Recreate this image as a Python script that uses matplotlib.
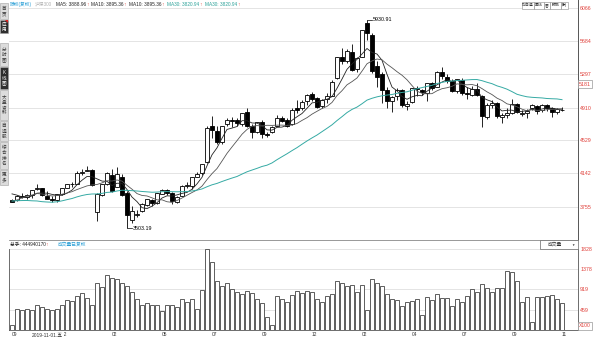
import numpy as np
import pandas as pd
import matplotlib.pyplot as plt
from matplotlib.patches import Rectangle

plt.rcParams['font.family'] = ['Liberation Sans', 'Noto Sans CJK SC', 'DejaVu Sans']

# weekly candles, CSI 300, 2019-09-30 .. 2021-11-15
months = ['09', '12', '02', '05', '07', '09', '12', '02', '04', '07', '09', '11']
pre_close = [3658, 3746, 3807, 3872, 4062, 4035, 4136, 3964, 3913, 3734,
             3649, 3596, 3629, 3571, 3688, 3830, 3825, 3892, 3808, 3808,
             3835, 3747, 3634, 3711, 3797, 3799, 3948, 3972, 3935, 3852]
opens = [3830, 3838, 3880, 3865, 3893, 3960, 3968, 3885, 3850, 3828,
         3900, 3975, 4020, 4025, 4150, 4170, 4185, 3688, 3892, 4020,
         4120, 3990, 4100, 3920, 3600, 3660, 3700, 3770, 3835, 3800,
         3905, 3950, 3915, 3810, 3880, 4000, 3995, 4105, 4145, 4270,
         4700, 4640, 4510, 4720, 4770, 4760, 4720, 4860, 4700, 4630,
         4740, 4600, 4620, 4700, 4790, 4760, 4720, 4910, 4900, 4985,
         5070, 5020, 4925, 5010, 5045, 5250, 5500, 5450, 5560, 5360,
         5500, 5895, 5750, 5390, 5300, 5110, 4990, 5040, 5110, 4930,
         4970, 5135, 5110, 5080, 5200, 5150, 5320, 5270, 5220, 5100,
         5230, 5075, 5060, 5125, 5040, 4800, 4945, 4960, 4800, 4825,
         4850, 4950, 4840, 4850, 4900, 4930, 4880, 4945, 4900, 4860,
         4885]
highs = [3840, 3890, 3910, 3905, 3955, 4018, 3975, 3935, 3878, 3905,
         3970, 4024, 4045, 4172, 4190, 4231, 4193, 3909, 4020, 4157,
         4190, 4220, 4140, 3935, 3760, 3720, 3800, 3850, 3850, 3915,
         3960, 3963, 3930, 3880, 4010, 4040, 4105, 4155, 4250, 4700,
         4816, 4700, 4700, 4790, 4800, 4790, 4850, 4900, 4720, 4745,
         4760, 4625, 4690, 4820, 4810, 4790, 4900, 5000, 4995, 5070,
         5090, 5035, 5010, 5080, 5230, 5500, 5600, 5590, 5655, 5500,
         5810, 5931, 5780, 5450, 5320, 5150, 5050, 5135, 5125, 4990,
         5140, 5160, 5125, 5200, 5210, 5340, 5380, 5300, 5240, 5245,
         5250, 5150, 5160, 5195, 5060, 4960, 5000, 4970, 4850, 4900,
         5005, 4960, 4880, 4890, 4950, 4945, 4950, 4950, 4920, 4900,
         4920]
lows = [3808, 3820, 3860, 3850, 3862, 3955, 3880, 3845, 3812, 3815,
        3890, 3972, 3985, 4020, 4120, 4168, 3994, 3588, 3880, 4010,
        3922, 3980, 3880, 3503, 3570, 3640, 3695, 3760, 3760, 3790,
        3900, 3890, 3790, 3802, 3875, 3975, 3960, 4100, 4120, 4265,
        4550, 4490, 4490, 4690, 4680, 4700, 4690, 4680, 4560, 4610,
        4560, 4570, 4615, 4695, 4740, 4680, 4710, 4850, 4880, 4940,
        4990, 4910, 4900, 4960, 5040, 5240, 5420, 5430, 5340, 5330,
        5495, 5700, 5310, 5150, 4960, 4900, 4860, 5000, 4920, 4880,
        4960, 5050, 5060, 4985, 5120, 5145, 5240, 5200, 5090, 5080,
        5060, 5010, 5040, 5040, 4680, 4780, 4900, 4790, 4730, 4790,
        4840, 4850, 4815, 4790, 4880, 4830, 4860, 4870, 4800, 4840,
        4865]
closes = [3814, 3874, 3869, 3895, 3952, 3973, 3891, 3849, 3828, 3902,
          3968, 4017, 4025, 4144, 4163, 4186, 4004, 3899, 4015, 4149,
          3940, 4138, 3895, 3653, 3710, 3675, 3786, 3839, 3797, 3912,
          3947, 3913, 3824, 3867, 3999, 4003, 4098, 4138, 4247, 4671,
          4643, 4505, 4695, 4762, 4750, 4733, 4845, 4696, 4628, 4740,
          4599, 4587, 4681, 4791, 4755, 4695, 4886, 4887, 4980, 5060,
          5010, 4920, 5003, 5042, 5211, 5496, 5458, 5570, 5351, 5483,
          5808, 5779, 5336, 5262, 5120, 4990, 5038, 5112, 4936, 4955,
          5135, 5123, 5088, 5200, 5143, 5321, 5283, 5224, 5102, 5239,
          5081, 5069, 5121, 5058, 4811, 4942, 4966, 4807, 4827, 4850,
          4948, 4855, 4850, 4866, 4938, 4874, 4940, 4908, 4854, 4889,
          4880]
volumes = [110, 480, 460, 470, 445, 560, 520, 480, 460, 470,
           560, 680, 660, 760, 840, 720, 560, 1050, 960, 1250,
           1180, 1150, 1050, 1000, 850, 700, 560, 600, 560, 560,
           420, 560, 560, 530, 700, 640, 700, 480, 900, 1820,
           1540, 1100, 1000, 1050, 920, 860, 820, 880, 840, 700,
           600, 300, 113, 760, 700, 640, 800, 880, 830, 880,
           860, 700, 640, 760, 820, 1100, 1050, 1000, 1020, 860,
           1020, 460, 1150, 1050, 1000, 820, 700, 680, 542, 640,
           662, 700, 340, 746, 678, 806, 723, 723, 542, 700,
           633, 768, 927, 866, 1040, 949, 866, 949, 949, 1333,
           1311, 1115, 640, 746, 181, 746, 735, 768, 791, 700,
           610]
price_ticks = [6066, 5684, 5297, 4910, 4529, 4142, 3755]
vol_ticks = [1828, 1378, 919, 459]

n = len(closes)
idx = np.arange(n)
allc = pd.Series(pre_close + closes)
ma5 = allc.rolling(5).mean().values[-n:]
ma10 = allc.rolling(10).mean().values[-n:]
ma30 = allc.rolling(30).mean().values[-n:]

W, H = 600, 337
fig = plt.figure(figsize=(6, 3.37), dpi=100)


def px_axes(x0, y0, x1, y1):
    return fig.add_axes([x0 / W, 1 - y1 / H, (x1 - x0) / W, (y1 - y0) / H])


red = '#e0403a'
grid_c = '#e4e4e4'

# ---- price panel
ax = px_axes(9, 0, 578, 240)
ax.set_xlim(-0.6, 113.2)
ax.set_ylim(3367, 6163)
o = np.array(opens); c = np.array(closes)
up = c >= o
ax.vlines(idx, lows, highs, color='black', lw=0.6, zorder=2)
ax.bar(idx, np.abs(c - o), bottom=np.minimum(o, c), width=0.62,
       color=np.where(up, 'white', 'black'), edgecolor='black', lw=0.6, zorder=3)
ax.plot(idx, ma5, color='#222222', lw=0.6, zorder=4)
ax.plot(idx, ma10, color='#555555', lw=0.6, zorder=4)
ax.plot(idx, ma30, color='#35aaa4', lw=0.7, zorder=4)

ax.yaxis.tick_right()
ax.set_yticks(price_ticks)
ax.set_yticklabels([str(t) for t in price_ticks])
ax.tick_params(axis='y', length=0, pad=1.5, labelsize=3.8, labelcolor=red)
ax.set_xticks([])
ax.grid(axis='y', color=grid_c, lw=0.7)
ax.set_axisbelow(True)
for s in ['top', 'left']:
    ax.spines[s].set_visible(False)
ax.spines['right'].set_color('#555555')
ax.spines['bottom'].set_color('#888888')
ax.spines['right'].set_linewidth(0.7)
ax.spines['bottom'].set_linewidth(0.6)

# peak / trough marks
hi_i = int(np.argmax(highs)); lo_i = int(np.argmin(lows))
ax.plot([hi_i, hi_i + 1.0], [highs[hi_i]] * 2, color='black', lw=0.5)
ax.text(hi_i + 1.1, highs[hi_i], '5930.91', fontsize=3.8, va='center', ha='left')
ax.plot([lo_i, lo_i + 1.0], [lows[lo_i]] * 2, color='black', lw=0.5)
ax.text(lo_i + 1.1, lows[lo_i], '3503.19', fontsize=3.8, va='center', ha='left')

ax.text(1.002, 5181, '5181', transform=ax.get_yaxis_transform(), fontsize=3.8,
        color=red, va='center', ha='left',
        bbox=dict(boxstyle='square,pad=0.25', fc='white', ec='#999999', lw=0.5))

# ---- volume panel
av = px_axes(9, 249, 578, 330)
av.set_xlim(-0.6, 113.2)
av.set_ylim(0, 1828)
av.bar(idx, volumes, width=0.7, color='white', edgecolor='#444444', lw=0.6, zorder=3)
av.yaxis.tick_right()
av.set_yticks(vol_ticks)
av.set_yticklabels([str(t) for t in vol_ticks])
av.tick_params(axis='y', length=0, pad=1.5, labelsize=3.8, labelcolor=red)
av.grid(axis='y', color=grid_c, lw=0.7)
av.set_axisbelow(True)
av.set_xticks(idx[::10])
av.set_xticklabels(months, ha='left')
av.tick_params(axis='x', length=0, pad=1.5, labelsize=3.5, labelcolor='#333333')
av.spines['top'].set_visible(False)
for s in ['left', 'bottom', 'right']:
    av.spines[s].set_color('#555555')
    av.spines[s].set_linewidth(0.6)
av.annotate('2019-11-01,五', xy=(4, 0), xycoords=av.get_xaxis_transform(),
            xytext=(0, -1.5), textcoords='offset points',
            fontsize=3.5, color='#333333', va='top', ha='left', zorder=10,
            annotation_clip=False,
            bbox=dict(boxstyle='square,pad=0.1', fc='white', ec='none'))
av.text(1.002, 0.05, 'X100', transform=av.transAxes, fontsize=3.6, color=red,
        va='center', ha='left',
        bbox=dict(boxstyle='square,pad=0.25', fc='white', ec='#999999', lw=0.5))

# ---- overlay: toolbar, header texts, side tabs
ov = fig.add_axes([0, 0, 1, 1], zorder=10)
ov.set_xlim(0, W); ov.set_ylim(H, 0); ov.axis('off')

tabs = [('首页', 3, 19, False), ('应用', 20, 33, True), ('分时图', 43, 66, False),
        ('K线图', 67, 89, True), ('大盘资料', 90, 120, False), ('自选股', 121, 141, False),
        ('综合排名', 142, 169, False), ('更多', 170, 185, False)]
for lab, y0, y1, dark in tabs:
    ov.add_patch(Rectangle((0.3, y0), 7.4, y1 - y0, fc='#2f2f2f' if dark else '#dcdcdc',
                           ec='#a0a0a0', lw=0.4))
    ov.text(4, (y0 + y1) / 2, '\n'.join(lab), fontsize=3.3, ha='center', va='center',
            linespacing=1.05, color='white' if dark else '#333333')
ov.add_patch(plt.Polygon([[5, 20], [7.7, 20], [7.7, 23]], color='#e02020', lw=0))

hdr_y = 4.3
ov.text(10, hdr_y, '除权(复权)', fontsize=3.4, color='#2a9fd6', va='center')
ov.text(35, hdr_y, '沪深300', fontsize=3.4, color='#b0b0b0', va='center')
hdr = [(56, 'MA5: 3888.96', '#222222'), (91, 'MA10: 3895.36', '#222222'),
       (129, 'MA10: 3895.36', '#222222'), (167, 'MA30: 3820.94', '#2aa198'),
       (205, 'MA30: 3820.94', '#2aa198')]
for x, t, col in hdr:
    tt = ov.text(x, hdr_y, t, fontsize=3.4, color=col, va='center')
    ov.annotate('↑', xycoords=tt, xy=(1, 0.5), va='center', fontsize=3.4, color=red)

btns = [('加自选', 522, 534), ('画线', 534, 544), ('雷', 544, 550), ('预测', 550, 561), ('▶|', 561, 568)]
for t, x0, x1 in btns:
    ov.add_patch(Rectangle((x0, 1.5), x1 - x0, 7.5, fc='white', ec='#888888', lw=0.4))
    ov.text((x0 + x1) / 2, 5.3, t, fontsize=2.8, ha='center', va='center', color='#333333')

tt = ov.text(10, 244.5, '总手: 444940170', fontsize=3.4, color='#222222', va='center')
ov.annotate('↑', xycoords=tt, xy=(1, 0.5), va='center', fontsize=3.4, color=red)
ov.text(58, 244.5, '成交量已复权', fontsize=3.4, color='#2a9fd6', va='center')
ov.add_patch(Rectangle((540, 240), 38, 9, fc='white', ec='#666666', lw=0.5))
ov.text(555, 244.5, '成交量', fontsize=3.4, ha='center', va='center', color='#333333')
ov.text(573, 244.5, '▼', fontsize=2.4, ha='center', va='center', color='#333333')

fig.savefig('out.png', dpi=100)
